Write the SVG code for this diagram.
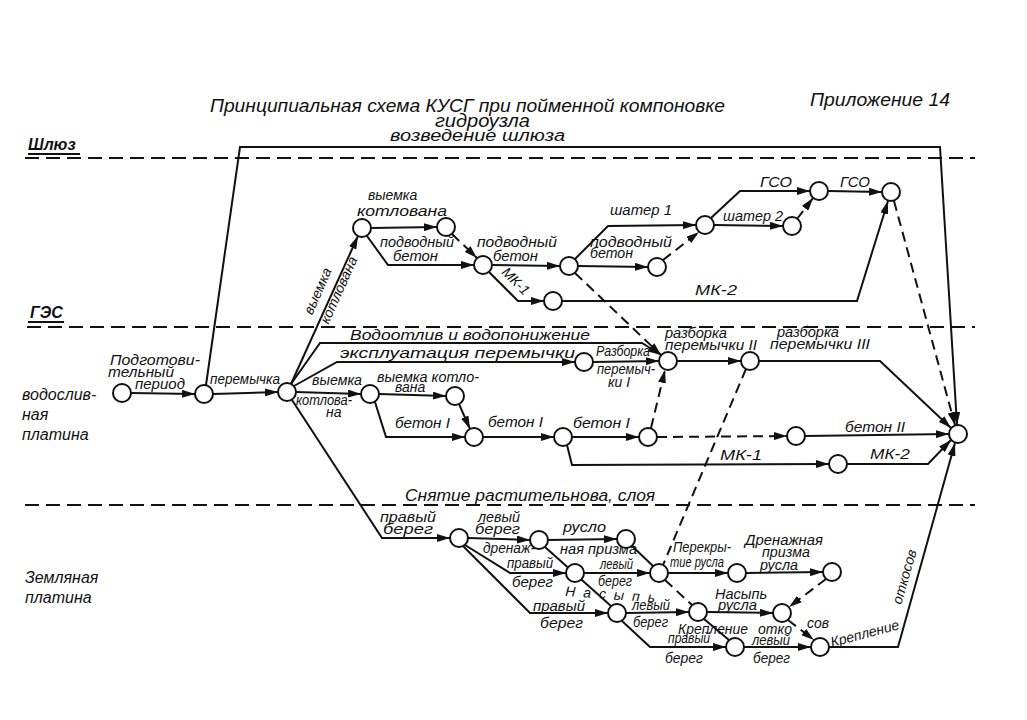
<svg xmlns="http://www.w3.org/2000/svg" width="1027" height="720" viewBox="0 0 1027 720">
<defs>
<style>
.n{fill:#fff;stroke:#111;stroke-width:2}
.c{fill:none;stroke:#111;stroke-width:2}
.d{stroke-dasharray:10 6}
.sep{fill:none;stroke:#111;stroke-width:2.2;stroke-dasharray:14 7}
text{font-family:"Liberation Sans","DejaVu Sans",sans-serif;font-style:italic;font-size:14px;fill:#111}
.t{font-size:18px}
.b{font-weight:bold;font-size:16px}
.l{font-size:16px}
</style>
<marker id="a" viewBox="0 0 13 8" refX="13" refY="4" markerWidth="13" markerHeight="8" orient="auto" markerUnits="userSpaceOnUse"><path d="M0,0 L13,4 L0,8 z" fill="#111"/></marker>
</defs>
<rect width="1027" height="720" fill="#fff"/>

<g id="separators">
<path class="sep" d="M25,158 H975"/>
<path class="sep" d="M27,327 H975"/>
<path class="sep" d="M25,505 H975"/>
</g>

<g id="titles">
<text class="t" x="210" y="112" textLength="515" lengthAdjust="spacingAndGlyphs">Принципиальная схема КУСГ при пойменной компоновке</text>
<text class="t" x="435" y="127" textLength="95" lengthAdjust="spacingAndGlyphs">гидроузла</text>
<text class="t" x="810" y="106" textLength="140" lengthAdjust="spacingAndGlyphs">Приложение 14</text>
<text class="b" x="28" y="150">Шлюз</text>
<path class="c" d="M28,154 H80"/>
<text class="b" x="30" y="318">ГЭС</text>
<path class="c" d="M28,322 H64"/>
<text class="l" x="22" y="400">водослив-</text>
<text class="l" x="22" y="420">ная</text>
<text class="l" x="22" y="440">платина</text>
<text class="l" x="25" y="583">Земляная</text>
<text class="l" x="25" y="603">платина</text>
</g>

<g id="connectors">
<path class="c" marker-end="url(#a)" d="M131,393 L195,394"/>
<path class="c" marker-end="url(#a)" d="M213,394 L278,392"/>
<path class="c" marker-end="url(#a)" d="M206,385 L240,147 L940,147 L957,425"/>
<path class="c" marker-end="url(#a)" d="M291,384 L358,236"/>
<path class="c" marker-end="url(#a)" d="M291,384 L320,343 L642,343 L661,355"/>
<path class="c" marker-end="url(#a)" d="M294,386 L337,362 L575,362"/>
<path class="c" marker-end="url(#a)" d="M296,392 L361,394"/>
<path class="c" marker-end="url(#a)" d="M292,400 L382,538 L450,538"/>
<path class="c" marker-end="url(#a)" d="M379,394 L446,396"/>
<path class="c" marker-end="url(#a)" d="M375,402 L386,437 L465,437"/>
<path class="c" marker-end="url(#a)" d="M459,404 L470,429"/>
<path class="c" marker-end="url(#a)" d="M483,437 L554,437"/>
<path class="c" marker-end="url(#a)" d="M572,437 L639,437"/>
<path class="c" marker-end="url(#a)" d="M567,445 L572,465 L829,464"/>
<path class="c" marker-end="url(#a)" d="M847,464 L928,464 L951,440"/>
<path class="c d" marker-end="url(#a)" d="M657,437 L787,436"/>
<path class="c" marker-end="url(#a)" d="M805,436 L949,434"/>
<path class="c d" marker-end="url(#a)" d="M651,428 L665,370"/>
<path class="c" marker-end="url(#a)" d="M593,362 L659,361"/>
<path class="c" marker-end="url(#a)" d="M677,361 L741,361"/>
<path class="c" marker-end="url(#a)" d="M759,361 L880,361 L951,428"/>
<path class="c d" marker-end="url(#a)" d="M575,273 L661,355"/>
<path class="c d" d="M746,369 L663,565"/>
<path class="c" marker-end="url(#a)" d="M371,228 L437,227"/>
<path class="c" marker-end="url(#a)" d="M367,236 L388,265 L474,265"/>
<path class="c d" marker-end="url(#a)" d="M452,234 L477,258"/>
<path class="c" marker-end="url(#a)" d="M492,265 L560,266"/>
<path class="c" marker-end="url(#a)" d="M489,272 L518,301 L544,301"/>
<path class="c" marker-end="url(#a)" d="M575,259 L608,226 L696,225"/>
<path class="c" marker-end="url(#a)" d="M578,266 L648,267"/>
<path class="c d" marker-end="url(#a)" d="M663,260 L699,232"/>
<path class="c" marker-end="url(#a)" d="M714,225 L783,226"/>
<path class="c" marker-end="url(#a)" d="M711,218 L740,191 L810,191"/>
<path class="c d" marker-end="url(#a)" d="M797,219 L813,198"/>
<path class="c" marker-end="url(#a)" d="M828,191 L882,192"/>
<path class="c" marker-end="url(#a)" d="M562,301 L857,301 L888,201"/>
<path class="c d" marker-end="url(#a)" d="M894,201 L955,425"/>
<path class="c" marker-end="url(#a)" d="M468,538 L530,540"/>
<path class="c" marker-end="url(#a)" d="M548,540 L617,539"/>
<path class="c" marker-end="url(#a)" d="M465,545 L510,573 L566,573"/>
<path class="c" marker-end="url(#a)" d="M463,546 L530,613 L608,613"/>
<path class="c" d="M545,547 L611,606"/>
<path class="c" d="M632,546 L653,566"/>
<path class="c" marker-end="url(#a)" d="M584,573 L650,573"/>
<path class="c" marker-end="url(#a)" d="M668,573 L728,573"/>
<path class="c" marker-end="url(#a)" d="M746,573 L823,572"/>
<path class="c d" marker-end="url(#a)" d="M826,579 L789,607"/>
<path class="c d" d="M665,580 L692,605"/>
<path class="c" marker-end="url(#a)" d="M626,613 L689,612"/>
<path class="c" marker-end="url(#a)" d="M707,612 L773,613"/>
<path class="c" marker-end="url(#a)" d="M622,621 L650,647 L726,647"/>
<path class="c" d="M704,619 L729,640"/>
<path class="c" marker-end="url(#a)" d="M744,647 L811,647"/>
<path class="c d" marker-end="url(#a)" d="M788,620 L814,640"/>
<path class="c" marker-end="url(#a)" d="M829,647 L898,647 L955,443"/>
</g>

<g id="labels">
<text class="l" x="390" y="141" textLength="175" lengthAdjust="spacingAndGlyphs">возведение шлюза</text>
<text x="110" y="365" textLength="90" lengthAdjust="spacingAndGlyphs">Подготови-</text>
<text x="108" y="377" textLength="66" lengthAdjust="spacingAndGlyphs">тельный</text>
<text x="135" y="389" textLength="50" lengthAdjust="spacingAndGlyphs">период</text>
<text x="210" y="384" textLength="70" lengthAdjust="spacingAndGlyphs">перемычка</text>
<text x="312" y="385" textLength="50" lengthAdjust="spacingAndGlyphs">выемка</text>
<text x="296" y="405" textLength="56" lengthAdjust="spacingAndGlyphs">котлова-</text>
<text x="326" y="417">на</text>
<text x="377" y="382" textLength="102" lengthAdjust="spacingAndGlyphs">выемка котло-</text>
<text x="395" y="392">вана</text>
<text x="395" y="428" textLength="55" lengthAdjust="spacingAndGlyphs">бетон I</text>
<text x="488" y="427" textLength="55" lengthAdjust="spacingAndGlyphs">бетон I</text>
<text x="573" y="428" textLength="57" lengthAdjust="spacingAndGlyphs">бетон I</text>
<text x="720" y="460" textLength="42" lengthAdjust="spacingAndGlyphs">МК-1</text>
<text x="870" y="459" textLength="40" lengthAdjust="spacingAndGlyphs">МК-2</text>
<text x="845" y="432" textLength="60" lengthAdjust="spacingAndGlyphs">бетон II</text>
<text x="350" y="340" textLength="240" lengthAdjust="spacingAndGlyphs">Водоотлив и водопонижение</text>
<text x="340" y="358" textLength="235" lengthAdjust="spacingAndGlyphs">эксплуатация перемычки</text>
<text x="596" y="356" textLength="54" lengthAdjust="spacingAndGlyphs">Разборка</text>
<text x="597" y="374" textLength="58" lengthAdjust="spacingAndGlyphs">перемыч-</text>
<text x="608" y="387">ки I</text>
<text x="665" y="338" textLength="62" lengthAdjust="spacingAndGlyphs">разборка</text>
<text x="665" y="350" textLength="92" lengthAdjust="spacingAndGlyphs">перемычки II</text>
<text x="777" y="337" textLength="62" lengthAdjust="spacingAndGlyphs">разборка</text>
<text x="770" y="349" textLength="100" lengthAdjust="spacingAndGlyphs">перемычки III</text>
<text x="368" y="200">выемка</text>
<text x="357" y="216" textLength="90" lengthAdjust="spacingAndGlyphs">котлована</text>
<text x="380" y="247" textLength="74" lengthAdjust="spacingAndGlyphs">подводный</text>
<text x="393" y="261" textLength="45" lengthAdjust="spacingAndGlyphs">бетон</text>
<text x="477" y="247" textLength="80" lengthAdjust="spacingAndGlyphs">подводный</text>
<text x="493" y="261" textLength="45" lengthAdjust="spacingAndGlyphs">бетон</text>
<text transform="translate(501,273) rotate(45)">МК-1</text>
<text text-anchor="middle" transform="translate(322,293) rotate(-66)">выемка</text>
<text text-anchor="middle" transform="translate(343,292) rotate(-66)">котлована</text>
<text x="610" y="215" textLength="62" lengthAdjust="spacingAndGlyphs">шатер 1</text>
<text x="590" y="247" textLength="82" lengthAdjust="spacingAndGlyphs">подводный</text>
<text x="590" y="258" textLength="43" lengthAdjust="spacingAndGlyphs">бетон</text>
<text x="723" y="221" textLength="60" lengthAdjust="spacingAndGlyphs">шатер 2</text>
<text x="760" y="187" textLength="32" lengthAdjust="spacingAndGlyphs">ГСО</text>
<text x="840" y="187" textLength="30" lengthAdjust="spacingAndGlyphs">ГСО</text>
<text x="695" y="295" textLength="42" lengthAdjust="spacingAndGlyphs">МК-2</text>
<text class="l" x="405" y="501" textLength="250" lengthAdjust="spacingAndGlyphs">Снятие растительнова, слоя</text>
<text x="380" y="522" textLength="56" lengthAdjust="spacingAndGlyphs">правый</text>
<text x="383" y="534" textLength="50" lengthAdjust="spacingAndGlyphs">берег</text>
<text x="478" y="522" textLength="42" lengthAdjust="spacingAndGlyphs">левый</text>
<text x="475" y="534" textLength="45" lengthAdjust="spacingAndGlyphs">берег</text>
<text x="563" y="532" textLength="43" lengthAdjust="spacingAndGlyphs">русло</text>
<text x="483" y="553" textLength="52" lengthAdjust="spacingAndGlyphs">дренаж-</text>
<text x="560" y="554" textLength="77" lengthAdjust="spacingAndGlyphs">ная призма</text>
<text x="507" y="568" textLength="46" lengthAdjust="spacingAndGlyphs">правый</text>
<text x="512" y="587" textLength="41" lengthAdjust="spacingAndGlyphs">берег</text>
<text x="600" y="569" textLength="33" lengthAdjust="spacingAndGlyphs">левый</text>
<text x="598" y="586" textLength="34" lengthAdjust="spacingAndGlyphs">берег</text>
<text x="565" y="596" transform="rotate(4,565,596)" textLength="90">Н а с ы п ь</text>
<text x="533" y="611" textLength="52" lengthAdjust="spacingAndGlyphs">правый</text>
<text x="540" y="628" textLength="43" lengthAdjust="spacingAndGlyphs">берег</text>
<text x="632" y="610" textLength="38" lengthAdjust="spacingAndGlyphs">левый</text>
<text x="633" y="627" textLength="35" lengthAdjust="spacingAndGlyphs">берег</text>
<text x="673" y="552" textLength="58" lengthAdjust="spacingAndGlyphs">Перекры-</text>
<text x="670" y="567" textLength="54" lengthAdjust="spacingAndGlyphs">тие русла</text>
<text x="745" y="545" textLength="78" lengthAdjust="spacingAndGlyphs">Дренажная</text>
<text x="762" y="557" textLength="48" lengthAdjust="spacingAndGlyphs">призма</text>
<text x="760" y="570" textLength="38" lengthAdjust="spacingAndGlyphs">русла</text>
<text x="715" y="599" textLength="52" lengthAdjust="spacingAndGlyphs">Насыпь</text>
<text x="718" y="610" textLength="39" lengthAdjust="spacingAndGlyphs">русла</text>
<text x="678" y="634" textLength="70" lengthAdjust="spacingAndGlyphs">Крепление</text>
<text x="758" y="634" textLength="34" lengthAdjust="spacingAndGlyphs">отко</text>
<text x="807" y="628" textLength="22" lengthAdjust="spacingAndGlyphs">сов</text>
<text x="668" y="643" textLength="42" lengthAdjust="spacingAndGlyphs">правый</text>
<text x="665" y="663" textLength="38" lengthAdjust="spacingAndGlyphs">берег</text>
<text x="752" y="645" textLength="38" lengthAdjust="spacingAndGlyphs">левый</text>
<text x="753" y="663" textLength="37" lengthAdjust="spacingAndGlyphs">берег</text>
<text text-anchor="middle" transform="translate(866,638) rotate(-15)">Крепление</text>
<text text-anchor="middle" transform="translate(909,578) rotate(-74)">откосов</text>
</g>

<g id="nodes">
<g id="N1"><circle class="n" cx="122" cy="393" r="9"/></g>
<g id="N2"><circle class="n" cx="204" cy="394" r="9"/></g>
<g id="N3"><circle class="n" cx="287" cy="392" r="9"/></g>
<g id="N4"><circle class="n" cx="370" cy="394" r="9"/></g>
<g id="T1"><circle class="n" cx="362" cy="228" r="9"/></g>
<g id="T2"><circle class="n" cx="446" cy="227" r="9"/></g>
<g id="T3"><circle class="n" cx="483" cy="265" r="9"/></g>
<g id="T4"><circle class="n" cx="569" cy="266" r="9"/></g>
<g id="T5"><circle class="n" cx="553" cy="301" r="9"/></g>
<g id="T6"><circle class="n" cx="657" cy="267" r="9"/></g>
<g id="T7"><circle class="n" cx="705" cy="225" r="9"/></g>
<g id="T8"><circle class="n" cx="792" cy="226" r="9"/></g>
<g id="T9"><circle class="n" cx="819" cy="191" r="9"/></g>
<g id="T10"><circle class="n" cx="891" cy="192" r="9"/></g>
<g id="R1"><circle class="n" cx="584" cy="362" r="9"/></g>
<g id="R2"><circle class="n" cx="668" cy="361" r="9"/></g>
<g id="R3"><circle class="n" cx="750" cy="361" r="9"/></g>
<g id="G1"><circle class="n" cx="455" cy="396" r="9"/></g>
<g id="G2"><circle class="n" cx="474" cy="437" r="9"/></g>
<g id="G3"><circle class="n" cx="563" cy="437" r="9"/></g>
<g id="G4"><circle class="n" cx="648" cy="437" r="9"/></g>
<g id="B"><circle class="n" cx="796" cy="436" r="9"/></g>
<g id="M"><circle class="n" cx="838" cy="464" r="9"/></g>
<g id="F"><circle class="n" cx="958" cy="434" r="9"/></g>
<g id="E1"><circle class="n" cx="459" cy="538" r="9"/></g>
<g id="E2"><circle class="n" cx="539" cy="540" r="9"/></g>
<g id="E3"><circle class="n" cx="626" cy="539" r="9"/></g>
<g id="E4"><circle class="n" cx="575" cy="573" r="9"/></g>
<g id="P"><circle class="n" cx="659" cy="573" r="9"/></g>
<g id="E8"><circle class="n" cx="737" cy="573" r="9"/></g>
<g id="E9"><circle class="n" cx="832" cy="572" r="9"/></g>
<g id="E5"><circle class="n" cx="617" cy="613" r="9"/></g>
<g id="E6"><circle class="n" cx="698" cy="612" r="9"/></g>
<g id="E7"><circle class="n" cx="782" cy="613" r="9"/></g>
<g id="E10"><circle class="n" cx="735" cy="647" r="9"/></g>
<g id="E11"><circle class="n" cx="820" cy="647" r="9"/></g>
</g>
</svg>
